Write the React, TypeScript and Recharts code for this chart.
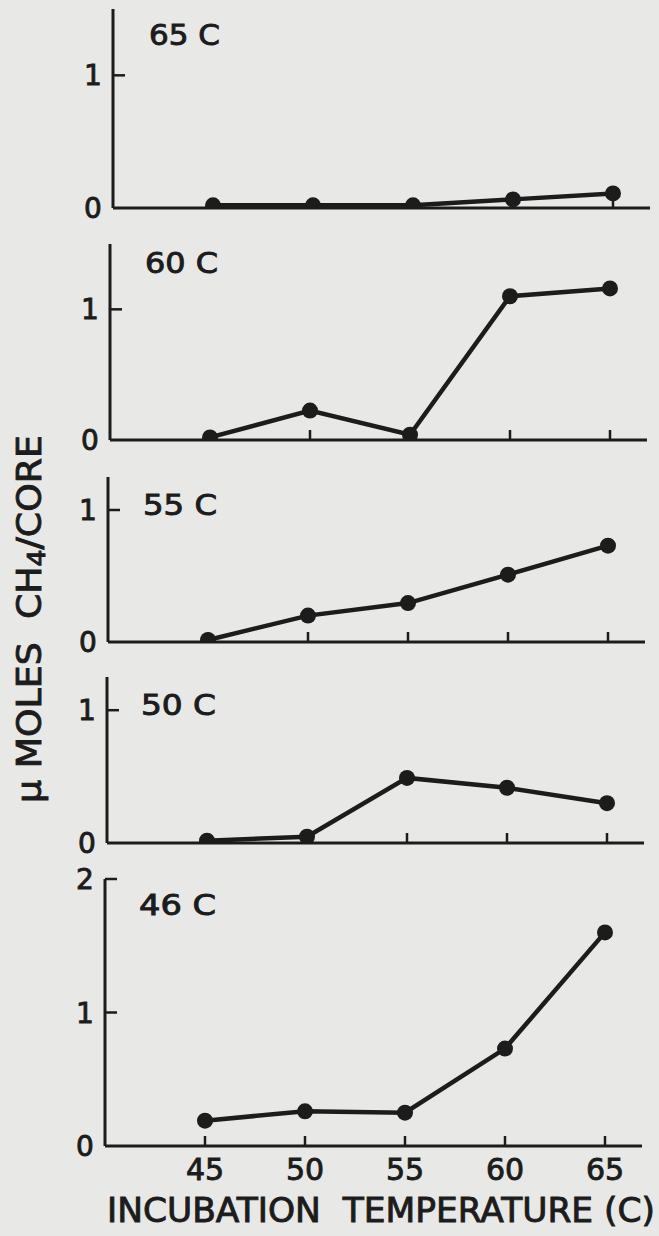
import React from 'react';
import { LineChart, Line, XAxis, YAxis } from 'recharts';

// ---- data ----
const temperatures = [45, 50, 55, 60, 65];
const xTicks = [45, 50, 55, 60, 65];
const panelLabels = ['65 C', '60 C', '55 C', '50 C', '46 C'];
const series65 = [0.02, 0.02, 0.02, 0.065, 0.11];
const series60 = [0.02, 0.225, 0.04, 1.1, 1.16];
const series55 = [0.015, 0.2, 0.295, 0.51, 0.73];
const series50 = [0.017, 0.047, 0.49, 0.416, 0.3];
const series46 = [0.19, 0.26, 0.25, 0.73, 1.6];
const yMaxes = [1.5, 1.5, 1.25, 1.25, 2];
const yTickSets = [[0, 1], [0, 1], [0, 1], [0, 1], [0, 1, 2]];
const xLabel = 'INCUBATION  TEMPERATURE (C)';

const allSeries = [series65, series60, series55, series50, series46];

// ---- layout ----
const W = 659;
const H = 1236;
const INK = '#1c1c1c';
const FONT = '"DejaVu Sans", sans-serif';
const TXT_STROKE = 0.9;
const X_DOMAIN: [number, number] = [40, 66.85];
const PLOT_W = 537;
const Y_AXIS_W = 40;
const X_AXIS_H = 60;
const panelLeft = [113, 110, 108, 107, 105];
const panelTop = [9, 244, 477, 677, 879];
const panelBottom = [208, 440, 642, 843, 1146];
const labelX = [149, 145, 143, 141, 139];
const labelLen = [71, 73, 74, 75, 77];
const labelBaseline = [45, 273, 515, 715, 915];

const XTick = (props: any) => {
  const { x, y, payload, showLabel } = props;
  return (
    <g>
      <line x1={x} y1={y} x2={x} y2={y - 10} stroke={INK} strokeWidth={2.5} />
      {showLabel && (
        <text x={x} y={y + 34} textAnchor="middle" fontSize={30} fontFamily={FONT} fill={INK} stroke={INK} strokeWidth={TXT_STROKE}>
          {payload.value}
        </text>
      )}
    </g>
  );
};

const YTick = (props: any) => {
  const { x, y, payload } = props;
  return (
    <g>
      {payload.value !== 0 && (
        <line x1={x} y1={y} x2={x + 12} y2={y} stroke={INK} strokeWidth={2.5} />
      )}
      <text x={x - 20} y={y + 10} textAnchor="middle" fontSize={28} fontFamily={FONT} fill={INK} stroke={INK} strokeWidth={TXT_STROKE}>
        {payload.value}
      </text>
    </g>
  );
};

function Panel({ i }: { i: number }) {
  const rows = temperatures.map((t, k) => ({ t, v: allSeries[i][k] }));
  const L = panelLeft[i];
  const T = panelTop[i];
  const B = panelBottom[i];
  return (
    <div style={{ position: 'absolute', left: 0, top: 0 }}>
      <LineChart
        width={W}
        height={H}
        data={rows}
        margin={{ top: T, left: L - Y_AXIS_W, right: W - L - PLOT_W, bottom: H - B - X_AXIS_H }}
      >
        <XAxis
          type="number"
          dataKey="t"
          domain={X_DOMAIN}
          ticks={xTicks}
          interval={0}
          height={X_AXIS_H}
          tickSize={0}
          tickMargin={0}
          tickLine={false}
          axisLine={{ stroke: INK, strokeWidth: 3 }}
          tick={(p: any) => <XTick {...p} showLabel={i === 4} />}
          allowDataOverflow
        />
        <YAxis
          type="number"
          domain={[0, yMaxes[i]]}
          ticks={yTickSets[i]}
          interval={0}
          width={Y_AXIS_W}
          tickSize={0}
          tickMargin={0}
          tickLine={false}
          axisLine={{ stroke: INK, strokeWidth: 3 }}
          tick={(p: any) => <YTick {...p} />}
          allowDataOverflow
        />
        <Line
          type="linear"
          dataKey="v"
          stroke={INK}
          strokeWidth={4.5}
          dot={{ r: 8, fill: INK, stroke: INK, strokeWidth: 0 }}
          activeDot={false}
          isAnimationActive={false}
        />
      </LineChart>
    </div>
  );
}

export default function App() {
  return (
    <div style={{ position: 'absolute', left: 0, top: 0, width: W, height: H, background: '#e8e8e7', overflow: 'hidden' }}>
      {[0, 1, 2, 3, 4].map((i) => (
        <Panel key={i} i={i} />
      ))}
      <svg width={W} height={H} style={{ position: 'absolute', left: 0, top: 0, pointerEvents: 'none', whiteSpace: 'pre' }}>
        {panelLabels.map((lab, i) => (
          <text
            key={lab}
            x={labelX[i]}
            y={labelBaseline[i]}
            fontSize={28}
            fontFamily={FONT}
            fill={INK}
            stroke={INK}
            strokeWidth={TXT_STROKE}
            textLength={labelLen[i]}
            lengthAdjust="spacingAndGlyphs"
          >
            {lab}
          </text>
        ))}
        <text
          x={107}
          y={1222}
          fontSize={33}
          fontFamily={FONT}
          fill={INK}
          stroke={INK}
          strokeWidth={TXT_STROKE}
          textLength={548}
          lengthAdjust="spacingAndGlyphs"
          style={{ whiteSpace: 'pre' }}
        >
          {xLabel}
        </text>
        <text
          transform="translate(41,619) rotate(-90)"
          x={0}
          y={0}
          textAnchor="middle"
          fontSize={34}
          fontFamily={FONT}
          fill={INK}
          stroke={INK}
          strokeWidth={TXT_STROKE}
          textLength={368}
          lengthAdjust="spacingAndGlyphs"
          style={{ whiteSpace: 'pre' }}
        >
          <tspan>{'μ MOLES  CH'}</tspan>
          <tspan fontSize={25} dy={4}>4</tspan>
          <tspan dy={-4}>{'/CORE'}</tspan>
        </text>
      </svg>
    </div>
  );
}
